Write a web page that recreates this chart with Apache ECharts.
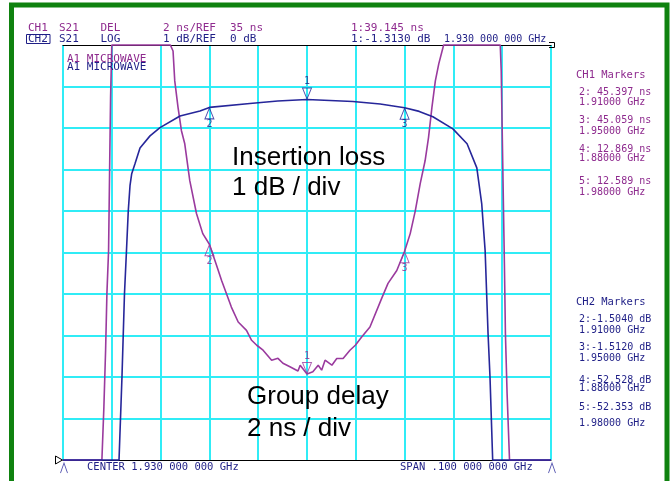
<!DOCTYPE html>
<html>
<head>
<meta charset="utf-8">
<script src="https://cdn.jsdelivr.net/npm/echarts@6/dist/echarts.min.js"></script>
<style>html,body{margin:0;padding:0;background:#fff;}#c{width:670px;height:481px;}</style>
</head>
<body>
<div id="c"></div>
<script>
// ---- Data ----
// Channel 2: insertion loss (S21 LOG), dB, vs frequency (MHz)
const freqIL = [1880, 1891.48, 1892.09, 1892.60, 1893.01, 1893.38, 1893.73, 1894.08, 1894.75, 1895.78, 1897.83, 1899.88, 1903.98, 1908.07, 1910, 1918.3, 1924, 1930, 1939.4, 1945, 1950, 1953, 1955.8, 1959.9, 1962.8, 1964.8, 1965.8, 1966.5, 1967.1, 1967.5, 1968.05, 1980];
const lossDb = [-52.528, -10.2, -7.98, -5.99, -4.95, -3.99, -3.39, -3.10, -2.86, -2.48, -2.19, -1.99, -1.71, -1.59, -1.504, -1.41, -1.35, -1.313, -1.36, -1.42, -1.512, -1.60, -1.73, -2.02, -2.38, -2.96, -3.82, -4.95, -6.95, -8.0, -10.2, -52.353];
// Channel 1: group delay (S21 DEL), ns, vs frequency (MHz)
const freqGD = [1880, 1887.97, 1888.38, 1888.73, 1889.0, 1889.34, 1889.55, 1889.75, 1890.0, 1896, 1902.0, 1902.55, 1902.9, 1903.57, 1904.27, 1904.95, 1905.98, 1907.35, 1908.64, 1910, 1911.46, 1912.5, 1913.5, 1914.5, 1915.9, 1917.6, 1918.65, 1919.7, 1921.0, 1922.75, 1924.05, 1925.07, 1926.5, 1928.15, 1928.6, 1930, 1931.2, 1932.3, 1933.0, 1933.7, 1935.1, 1936.1, 1937.4, 1938.8, 1939.9, 1941.2, 1942.9, 1945.3, 1946.6, 1948.4, 1950, 1951.15, 1952.2, 1953.2, 1954.2, 1954.9, 1955.6, 1956.3, 1957.0, 1958.0, 1964, 1969.6, 1969.8, 1970.0, 1970.45, 1970.66, 1971.0, 1971.5, 1980];
const delayNs = [12.869, 34.8, 37.56, 40.29, 43.03, 45.1, 48.94, 52.47, 56, 60, 56, 54.71, 53.27, 51.99, 50.87, 50.24, 48.46, 46.88, 45.91, 45.397, 44.38, 43.65, 43.01, 42.37, 41.65, 41.25, 40.77, 40.53, 40.29, 39.81, 39.9, 39.66, 39.49, 39.29, 39.57, 39.145, 39.25, 39.57, 39.33, 39.81, 39.57, 39.89, 39.89, 40.29, 40.53, 40.93, 41.41, 42.79, 43.51, 44.13, 45.059, 45.91, 47.02, 48.32, 49.42, 50.54, 51.99, 53.27, 54.09, 56, 60, 56, 53.75, 50.87, 44.47, 41.1, 38.22, 34.8, 12.589];
// Markers
const markerNames = ['1', '2', '3'];
const markerFreq = [1930, 1910, 1950];
const markerLoss = [-1.313, -1.504, -1.512];
const markerDelay = [39.145, 45.397, 45.059];
const edgeMarkerFreq = [1880, 1980];
// Axis scales
const xMin = 1880, xMax = 1980, xStep = 10;     // CENTER 1.930 GHz, SPAN 0.100 GHz
const lossMin = -10, lossMax = 0, lossStep = 1;  // 1 dB/div, REF 0 dB
const delayMin = 35, delayMax = 55, delayStep = 2; // 2 ns/div, REF 35 ns
// Texts
const ch1Markers = ['2: 45.397 ns', '1.91000 GHz', '3: 45.059 ns', '1.95000 GHz', '4: 12.869 ns', '1.88000 GHz', '5: 12.589 ns', '1.98000 GHz'];
const ch2Markers = ['2:-1.5040 dB', '1.91000 GHz', '3:-1.5120 dB', '1.95000 GHz', '4:-52.528 dB', '1.88000 GHz', '5:-52.353 dB', '1.98000 GHz'];

const MAG = '#9a3a9e', NAVY = '#26269a', MAGT = '#8e2a8e', NAVT = '#1e1e86';
const clamp = (v, a, b) => Math.max(a, Math.min(b, v));
const MONO = '"DejaVu Sans Mono", "Liberation Mono", monospace';
const SANS = '"Liberation Sans", Arial, sans-serif';

const chart = echarts.init(document.getElementById('c'), null, {renderer: 'canvas'});

function txt(text, x, y, color, size, align) {
  return {type: 'text', z: 50, style: {text: text, x: x, y: y, fill: color, font: size + 'px ' + MONO, textAlign: align || 'left', textVerticalAlign: 'middle'}};
}
const g = [];
g.push({type: 'rect', z: 60, shape: {x: 11.5, y: 5, width: 655.5, height: 520}, style: {fill: 'none', stroke: '#0f820f', lineWidth: 5}});
// header
g.push(txt('CH1', 28, 28.5, MAGT, 11), txt('S21', 59, 28.5, MAGT, 11), txt('DEL', 100.5, 28.5, MAGT, 11),
  txt('2 ns/REF', 163, 28.5, MAGT, 11), txt('35 ns', 230, 28.5, MAGT, 11), txt('1:39.145 ns', 351, 28.5, MAGT, 11));
g.push(txt('CH2', 28, 39.3, NAVT, 11), txt('S21', 59, 39.3, NAVT, 11), txt('LOG', 100.5, 39.3, NAVT, 11),
  txt('1 dB/REF', 163, 39.3, NAVT, 11), txt('0 dB', 230, 39.3, NAVT, 11), txt('1:-1.3130 dB', 351, 39.3, NAVT, 11),
  txt('1.930 000 000 GHz', 444, 39.3, NAVT, 10));
g.push({type: 'rect', z: 50, shape: {x: 26.5, y: 34.5, width: 23.5, height: 9}, style: {fill: 'none', stroke: NAVT, lineWidth: 1}});
g.push(txt('A1 MICROWAVE', 67, 58.7, MAGT, 11), txt('A1 MICROWAVE', 67, 67.3, NAVT, 11));
// right marker tables
g.push(txt('CH1 Markers', 576, 75.7, MAGT, 10.5));
const y1 = [92.3, 102.7, 120.7, 131.7, 149.3, 158.7, 181.7, 192.3];
ch1Markers.forEach((t, i) => g.push(txt(t, 579, y1[i], MAGT, 10)));
g.push(txt('CH2 Markers', 576, 302.3, NAVT, 10.5));
const y2 = [319.3, 330, 347.3, 358.3, 380.7, 388.7, 407.3, 423.3];
ch2Markers.forEach((t, i) => g.push(txt(t, 579, y2[i], NAVT, 10)));
// bottom
g.push(txt('CENTER 1.930 000 000 GHz', 87, 467.5, NAVT, 10.5), txt('SPAN .100 000 000 GHz', 400, 467.5, NAVT, 10.5));
// big annotations
[['Insertion loss', 232, 158], ['1 dB / div', 232, 188], ['Group delay', 247, 397], ['2 ns / div', 247, 429]].forEach(a => {
  g.push({type: 'text', z: 40, style: {text: a[0], x: a[1], y: a[2], fill: '#000', font: '26px ' + SANS, textVerticalAlign: 'middle'}});
});
// reference indicators
g.push({type: 'polygon', z: 45, shape: {points: [[55.5, 456], [62.5, 460], [55.5, 464]]}, style: {fill: '#fff', stroke: '#000', lineWidth: 1}});
g.push({type: 'polyline', z: 45, shape: {points: [[549, 42.5], [554.5, 42.5], [554.5, 47.5], [549, 47.5]]}, style: {fill: 'none', stroke: '#000', lineWidth: 1}});

const downTri = 'path://M0,0L10,0L5,12Z';
const upTri = 'path://M5,0L10,12L0,12Z';

const option = {
  animation: false,
  backgroundColor: '#fff',
  grid: {left: 63, right: 119, top: 45, bottom: 21, containLabel: false},
  xAxis: [{
    type: 'value', min: xMin, max: xMax, interval: xStep, position: 'bottom',
    axisLine: {show: true, onZero: false, lineStyle: {color: '#000', width: 1}},
    axisTick: {show: false}, axisLabel: {show: false},
    splitLine: {show: true, lineStyle: {color: '#30ecf6', width: 2}}
  }, {
    type: 'value', min: xMin, max: xMax, interval: xStep, position: 'top',
    axisLine: {show: true, onZero: false, lineStyle: {color: '#000', width: 1}},
    axisTick: {show: false}, axisLabel: {show: false}, splitLine: {show: false}
  }],
  yAxis: [{
    type: 'value', min: lossMin, max: lossMax, interval: lossStep,
    axisLine: {show: false}, axisTick: {show: false}, axisLabel: {show: false},
    splitLine: {show: true, showMinLine: false, showMaxLine: false, lineStyle: {color: '#30ecf6', width: 2}}
  }, {
    type: 'value', min: delayMin, max: delayMax, interval: delayStep, position: 'right',
    axisLine: {show: false}, axisTick: {show: false}, axisLabel: {show: false}, splitLine: {show: false}
  }],
  graphic: g,
  series: [
    {
      type: 'line', name: 'Group delay', xAxisIndex: 0, yAxisIndex: 1, z: 3, clip: false,
      symbol: 'none', lineStyle: {color: MAG, width: 1.6},
      data: freqGD.map((f, i) => [f, clamp(delayNs[i], delayMin, delayMax)])
    },
    {
      type: 'line', name: 'Insertion loss', xAxisIndex: 0, yAxisIndex: 0, z: 4, clip: false,
      symbol: 'none', lineStyle: {color: NAVY, width: 1.6},
      data: freqIL.map((f, i) => [f, clamp(lossDb[i], lossMin, lossMax)])
    },
    // CH2 markers
    {
      type: 'scatter', yAxisIndex: 0, z: 6, clip: false, symbol: downTri, symbolSize: [9, 11], symbolOffset: [0, -6],
      itemStyle: {color: 'rgba(0,0,0,0)', borderColor: NAVY, borderWidth: 1},
      label: {show: true, position: 'top', distance: 1, color: NAVT, fontSize: 10, fontFamily: MONO, formatter: p => p.data[2]},
      data: [[markerFreq[0], markerLoss[0], markerNames[0]]]
    },
    {
      type: 'scatter', yAxisIndex: 0, z: 6, clip: false, symbol: upTri, symbolSize: [9, 11], symbolOffset: [0, 6],
      itemStyle: {color: 'rgba(0,0,0,0)', borderColor: NAVY, borderWidth: 1},
      label: {show: true, position: 'bottom', distance: 0, color: NAVT, fontSize: 10, fontFamily: MONO, formatter: p => p.data[2]},
      data: [1, 2].map(i => [markerFreq[i], markerLoss[i], markerNames[i]])
    },
    // CH1 markers
    {
      type: 'scatter', yAxisIndex: 1, z: 6, clip: false, symbol: downTri, symbolSize: [9, 11], symbolOffset: [0, -6],
      itemStyle: {color: 'rgba(0,0,0,0)', borderColor: MAG, borderWidth: 1},
      label: {show: true, position: 'top', distance: 1, color: MAGT, fontSize: 10, fontFamily: MONO, formatter: p => p.data[2]},
      data: [[markerFreq[0], markerDelay[0], markerNames[0]]]
    },
    {
      type: 'scatter', yAxisIndex: 1, z: 6, clip: false, symbol: upTri, symbolSize: [9, 11], symbolOffset: [0, 6],
      itemStyle: {color: 'rgba(0,0,0,0)', borderColor: MAG, borderWidth: 1},
      label: {show: true, position: 'bottom', distance: 0, color: MAGT, fontSize: 10, fontFamily: MONO, formatter: p => p.data[2]},
      data: [1, 2].map(i => [markerFreq[i], markerDelay[i], markerNames[i]])
    },
    // markers 4 & 5 at span edges (off-scale)
    {
      type: 'scatter', yAxisIndex: 0, z: 6, clip: false, symbol: 'path://M0,10L4,0L8,10', symbolSize: [7, 10], symbolOffset: [1, 8],
      itemStyle: {color: 'rgba(0,0,0,0)', borderColor: NAVY, borderWidth: 1},
      data: edgeMarkerFreq.map(f => [f, lossMin])
    }
  ]
};
chart.setOption(option);
</script>
</body>
</html>
